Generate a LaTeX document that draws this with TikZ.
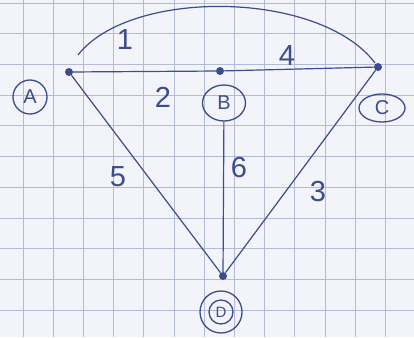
\documentclass[tikz,border=0pt]{standalone}
\usepackage{fontspec}
\setmainfont{Liberation Sans}
\usetikzlibrary{shapes.geometric}
\definecolor{paper}{HTML}{F2F4FA}
\definecolor{gridc}{HTML}{B3BAD3}
\definecolor{ink}{HTML}{3C4C8C}
\tikzset{
  vdot/.style={circle,fill=ink,inner sep=0pt,minimum size=8pt},
  edge/.style={draw=ink,line width=1.2pt},
  elab/.style={text=ink,font=\fontsize{29}{29}\selectfont},
  vlab/.style={draw=ink,line width=1.3pt,text=ink,font=\fontsize{20}{20}\selectfont,inner sep=1pt},
}
\begin{document}
\begin{tikzpicture}[x=1pt,y=-1pt]
\fill[paper] (0,0) rectangle (414,337);
\useasboundingbox (0,0) rectangle (414,337);
\foreach \i in {0,...,13} {\draw[gridc,line width=0.8pt] ({23+30.2*\i},0) -- ({23+30.2*\i},337);}
\foreach \j in {0,...,11} {\draw[gridc,line width=0.8pt] (0,{3+30.7*\j}) -- (414,{3+30.7*\j});}
\node[vdot] (A) at (69,72) {};
\node[vdot] (B) at (220,71) {};
\node[vdot] (C) at (378,67) {};
\node[vdot] (D) at (223,276) {};
\coordinate (a1) at (78,55);
\coordinate (c1) at (375,63);
\draw[edge] (a1) .. controls (130,-12) and (320,-10) .. (c1);
\draw[edge] (A) -- (B);
\draw[edge] (B) -- (C);
\draw[edge] (A) -- (D);
\draw[edge] (C) -- (D);
\node[vlab,circle,minimum size=34pt] (LA) at (30,97) {A};
\node[vlab,ellipse,minimum width=43pt,minimum height=36pt] (LB) at (224,103) {B};
\node[vlab,ellipse,minimum width=46pt,minimum height=28pt] (LC) at (382,108) {C};
\node[vlab,circle,minimum size=24pt,font=\fontsize{15}{15}\selectfont] (LD) at (221,312) {D};
\node[vlab,circle,minimum size=42pt] (LD2) at (221,312) {};
\draw[edge] (LB) -- (D);
\node[elab] (l1) at (125,40) {1};
\node[elab] (l2) at (163,97) {2};
\node[elab] (l4) at (287,56) {4};
\node[elab] (l5) at (118,177) {5};
\node[elab] (l6) at (239,168) {6};
\node[elab] (l3) at (318,192) {3};
\end{tikzpicture}
\end{document}
